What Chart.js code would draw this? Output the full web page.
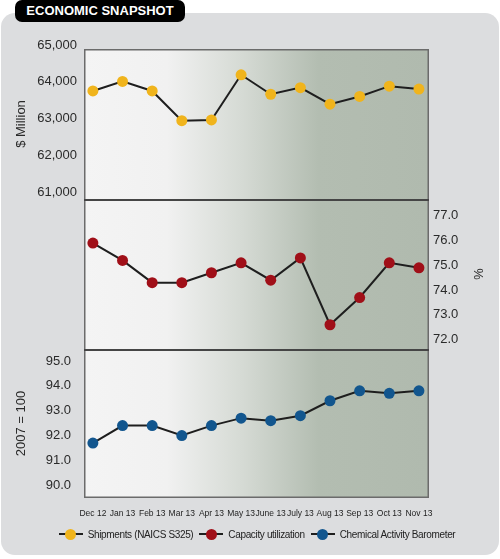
<!DOCTYPE html>
<html>
<head>
<meta charset="utf-8">
<script src="https://cdn.jsdelivr.net/npm/chart.js@4.4.1/dist/chart.umd.min.js"></script>
<style>
  body { margin: 0; background: #fff; }
  #wrap { position: relative; width: 500px; height: 559px; overflow: hidden; font-family: "Liberation Sans", Arial, sans-serif; }
  #panel { position: absolute; left: 1px; top: 13px; width: 498px; height: 542px; background: #dcdddf; border-radius: 14px; }
  #tab { position: absolute; left: 15px; top: 0; width: 170px; height: 22px; background: #000; border-radius: 7px;
         color: #fff; font-weight: bold; font-size: 13px; line-height: 22px; text-align: center; }
  canvas { position: absolute; left: 0; }
  #legend { position: absolute; left: 14px; top: 527px; width: 486px; height: 14px; display: flex; justify-content: center;
            font-family: "Liberation Sans", Arial, sans-serif; font-size: 10px; letter-spacing: -0.35px; color: #222; }
  .item { display: flex; align-items: center; margin: 0 3px; }
  .sw { position: relative; width: 24px; height: 14px; margin-right: 5px; }
  .sw:before { content: ""; position: absolute; left: 0; right: 0; top: 6px; height: 2px; background: #1e1e1e; }
  .sw i { position: absolute; left: 6.5px; top: 1.5px; width: 11px; height: 11px; border-radius: 50%; }
</style>
</head>
<body>
<div id="wrap">
  <div id="panel"></div>
  <div id="tab">ECONOMIC SNAPSHOT</div>
  <canvas id="c1" width="500" height="169" style="top:30px"></canvas>
  <canvas id="c2" width="500" height="150" style="top:199px"></canvas>
  <canvas id="c3" width="500" height="180" style="top:349px"></canvas>
  <div id="legend"></div>
</div>
<script>
const months = ['Dec 12', 'Jan 13', 'Feb 13', 'Mar 13', 'Apr 13', 'May 13', 'June 13', 'July 13', 'Aug 13', 'Sep 13', 'Oct 13', 'Nov 13']
const seriesNames = ['Shipments (NAICS S325)', 'Capacity utilization', 'Chemical Activity Barometer']
const seriesColors = ['#f0b41c', '#a00f18', '#12568e']

const shipments = [63750, 64010, 63750, 62940, 62960, 64190, 63660, 63840, 63390, 63600, 63880, 63800]
const capacity = [75.9, 75.2, 74.3, 74.3, 74.7, 75.1, 74.4, 75.3, 72.6, 73.7, 75.1, 74.9]
const cab = [91.7, 92.4, 92.4, 92.0, 92.4, 92.7, 92.6, 92.8, 93.4, 93.8, 93.7, 93.8]

const shipTicks = [61000, 62000, 63000, 64000, 65000]
const capTicks = [72, 73, 74, 75, 76, 77]
const cabTicks = [90, 91, 92, 93, 94, 95]

const tickFont = { family: '"Liberation Sans", Arial, sans-serif', size: 13 }
const textColor = '#2a2a2a'

// gradient box + frame behind each panel
const panelBg = {
  id: 'panelBg',
  beforeDraw(chart, args, opts) {
    const { ctx, chartArea: a } = chart
    const g = ctx.createLinearGradient(a.left, 0, a.right, 0)
    g.addColorStop(0, '#f4f4f4')
    g.addColorStop(0.24, '#f1f1f1')
    g.addColorStop(0.46, '#d5dad4')
    g.addColorStop(0.68, '#b3bdb1')
    g.addColorStop(1, '#b0baae')
    ctx.save()
    ctx.fillStyle = g
    ctx.fillRect(a.left, a.top, a.right - a.left, a.bottom - a.top)
    ctx.restore()
  },
  afterDraw(chart, args, opts) {
    const { ctx, chartArea: a } = chart
    ctx.save()
    ctx.strokeStyle = '#6b6b6b'
    ctx.lineWidth = 1.5
    ctx.beginPath()
    ctx.moveTo(a.left + 0.75, a.top)
    ctx.lineTo(a.left + 0.75, a.bottom)
    ctx.moveTo(a.right - 0.75, a.top)
    ctx.lineTo(a.right - 0.75, a.bottom)
    if (opts.bottom) {
      ctx.moveTo(a.left, a.bottom - 0.75)
      ctx.lineTo(a.right, a.bottom - 0.75)
    }
    ctx.stroke()
    ctx.beginPath()
    ctx.strokeStyle = opts.topColor
    ctx.lineWidth = opts.topWidth
    ctx.moveTo(a.left, a.top + opts.topWidth / 2)
    ctx.lineTo(a.right, a.top + opts.topWidth / 2)
    ctx.stroke()
    ctx.restore()
  }
}

const noPad = s => { s.paddingTop = 0; s.paddingBottom = 0; s.paddingLeft = 0; s.paddingRight = 0 }
const setTicks = vals => s => { s.ticks = vals.map(v => ({ value: v })) }

const xScale = (show) => ({
  type: 'linear',
  min: -0.3,
  max: 11.34,
  display: show,
  grid: { display: false, drawTicks: false },
  border: { display: false },
  afterBuildTicks: setTicks(months.map((m, i) => i)),
  afterFit: s => { noPad(s); if (show) s.height = 31 },
  ticks: {
    autoSkip: false,
    maxRotation: 0,
    padding: 11,
    color: '#1e1e1e',
    font: { family: '"Liberation Sans", Arial, sans-serif', size: 8.5 },
    callback: v => months[v]
  }
})

const yScale = (o) => ({
  type: 'linear',
  position: o.pos,
  min: o.min,
  max: o.max,
  grid: { display: false, drawTicks: false },
  border: { display: false },
  afterBuildTicks: setTicks(o.ticks),
  afterFit: s => { noPad(s); s.width = o.width },
  ticks: { padding: o.pad, color: textColor, font: tickFont, callback: o.fmt },
  title: { display: true, text: o.title, color: textColor, font: tickFont, padding: { top: o.titlePad, bottom: 0 } }
})

const makeChart = (id, values, color, y, showX, layoutPad, frame) => new Chart(document.getElementById(id), {
  type: 'line',
  data: {
    datasets: [{
      data: values.map((v, i) => ({ x: i, y: v })),
      borderColor: '#1e1e1e',
      borderWidth: 2,
      tension: 0,
      pointRadius: 5.5,
      pointBorderWidth: 0,
      pointBackgroundColor: color,
      pointBorderColor: color
    }]
  },
  options: {
    responsive: false,
    animation: false,
    layout: { padding: layoutPad, autoPadding: false },
    plugins: { legend: { display: false }, tooltip: { enabled: false }, panelBg: frame },
    scales: { x: xScale(showX), y: y }
  },
  plugins: [panelBg]
})

makeChart('c1', shipments, seriesColors[0], yScale({
  pos: 'left', min: 60810, max: 64891, ticks: shipTicks, width: 84, pad: 7, title: '$ Million', titlePad: 14,
  fmt: v => v.toLocaleString('en-US')
}), false, { left: 0, right: 71, top: 19, bottom: 0 }, { bottom: false, topColor: '#6b6b6b', topWidth: 1.5 })

makeChart('c2', capacity, seriesColors[1], yScale({
  pos: 'right', min: 71.62, max: 77.68, ticks: capTicks, width: 71, pad: 4, title: '%', titlePad: 15,
  fmt: v => v.toFixed(1)
}), false, { left: 84, right: 0, top: 0, bottom: 0 }, { bottom: false, topColor: '#454545', topWidth: 2 })

makeChart('c3', cab, seriesColors[2], yScale({
  pos: 'left', min: 89.49, max: 95.48, ticks: cabTicks, width: 84, pad: 13, title: '2007 = 100', titlePad: 14,
  fmt: v => v.toFixed(1)
}), true, { left: 0, right: 71, top: 0, bottom: 0 }, { bottom: true, topColor: '#454545', topWidth: 2 })

const legend = document.getElementById('legend')
seriesNames.forEach((name, i) => {
  const item = document.createElement('div')
  item.className = 'item'
  item.innerHTML = '<span class="sw"><i style="background:' + seriesColors[i] + '"></i></span><span>' + name + '</span>'
  legend.appendChild(item)
})
</script>
</body>
</html>
